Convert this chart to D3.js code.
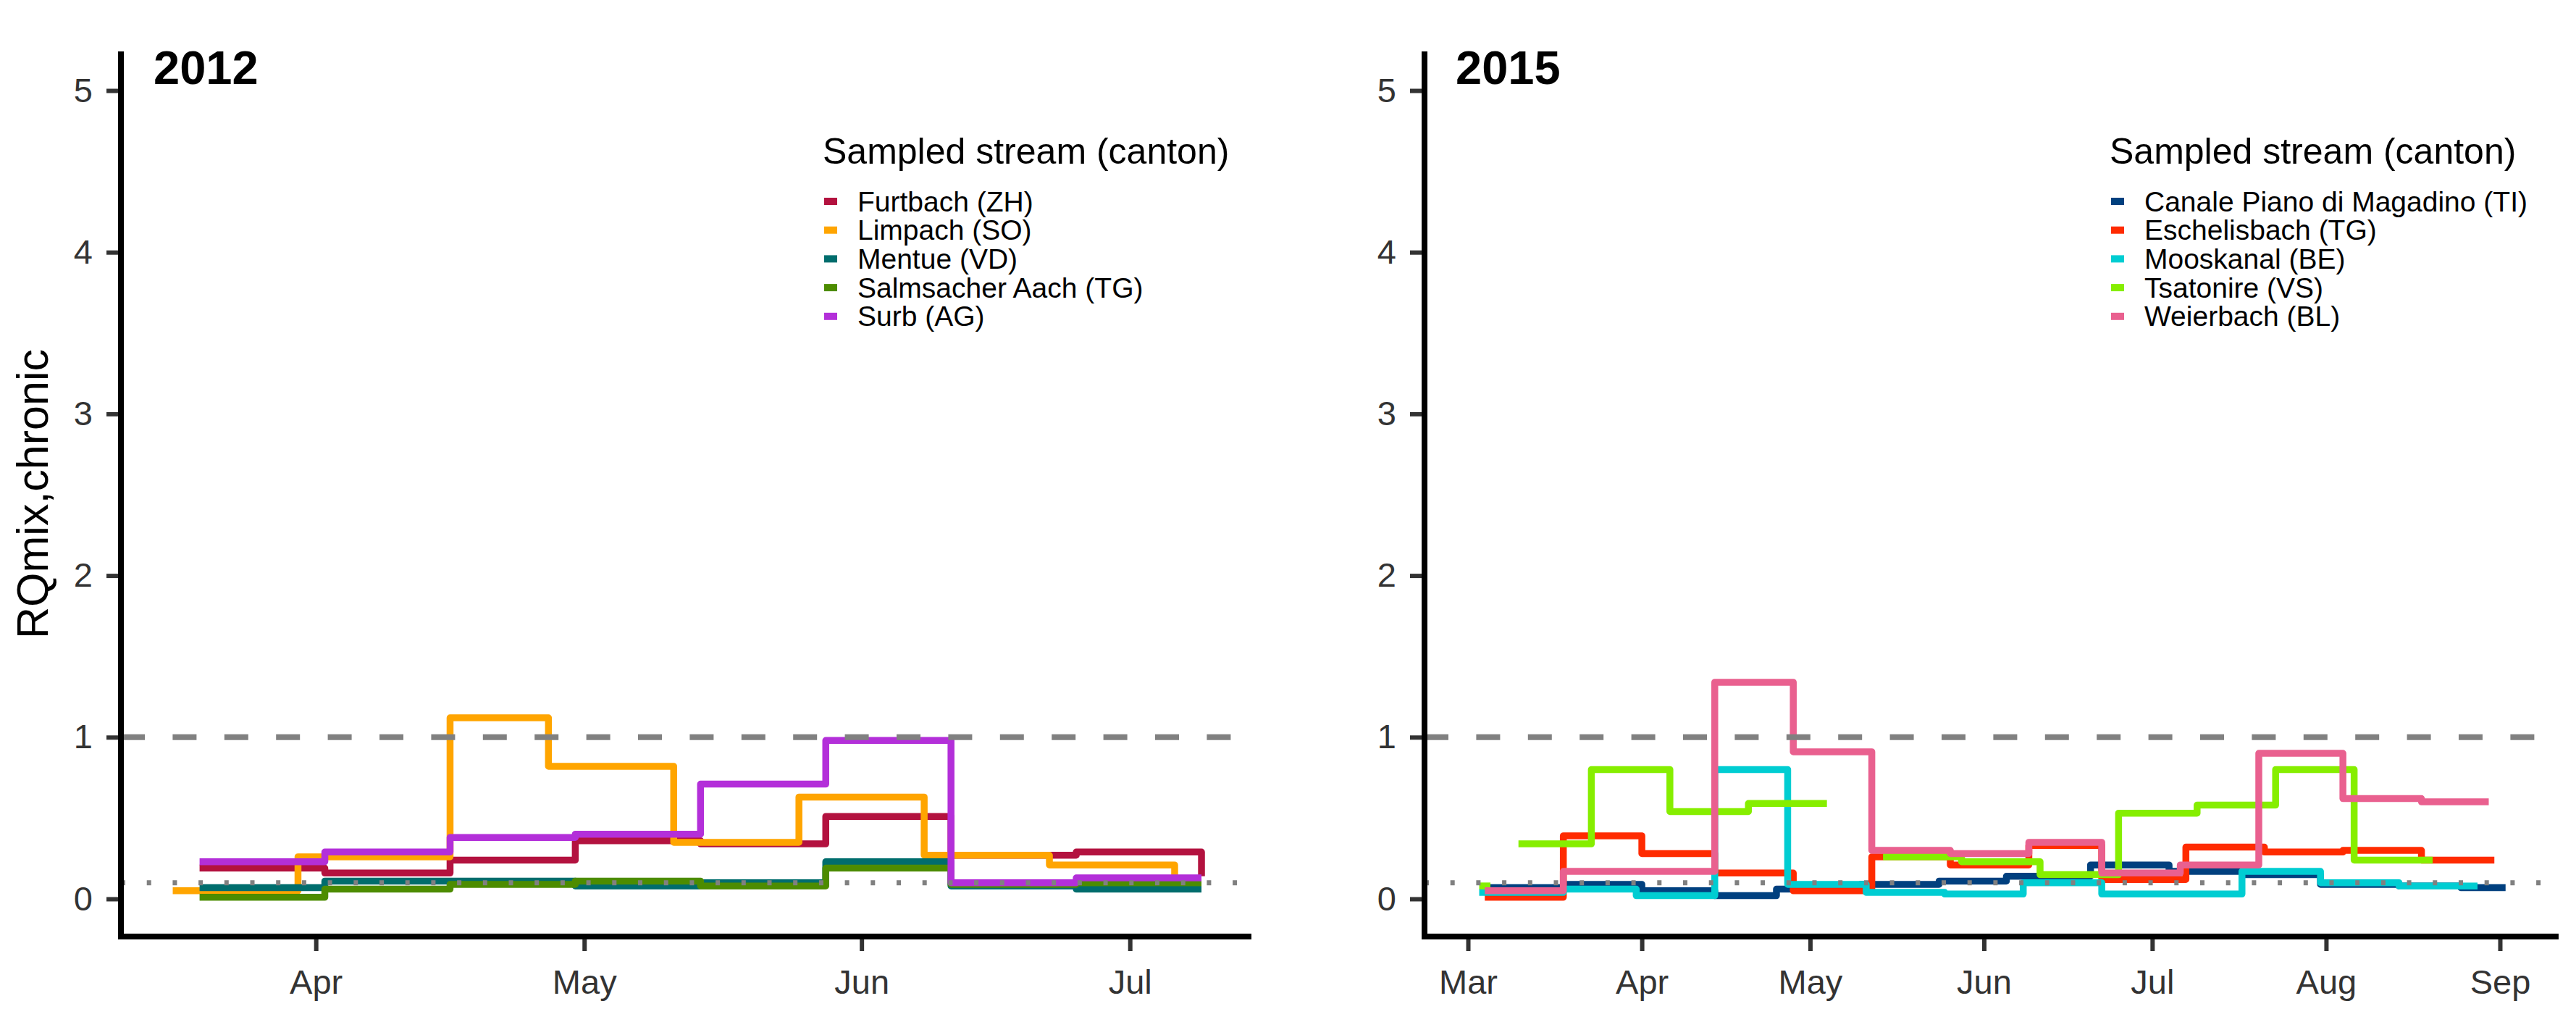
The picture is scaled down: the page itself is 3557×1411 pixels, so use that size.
<!DOCTYPE html>
<html>
<head>
<meta charset="utf-8">
<script src="https://cdn.jsdelivr.net/npm/d3@7"></script>
<style>
  body { margin: 0; background: #fff; }
</style>
</head>
<body>
<div id="chart"></div>
<script>

// ---- 2012 : composite samples (start of each period, last entry = end of last period)
const sampling2012 = ['2012-03-19','2012-04-02','2012-04-16','2012-04-30','2012-05-14','2012-05-28','2012-06-11','2012-06-25','2012-07-09']
const limpachDates = ['2012-03-16','2012-03-30','2012-04-16','2012-04-27','2012-05-11','2012-05-25','2012-06-08','2012-06-22','2012-07-06']

const furtbach   = [0.19, 0.16, 0.24, 0.36, 0.34, 0.51, 0.27, 0.29, 0.14]
const limpach    = [0.05, 0.26, 1.12, 0.82, 0.35, 0.63, 0.27, 0.21, 0.13]
const mentue     = [0.07, 0.11, 0.11, 0.08, 0.10, 0.23, 0.08, 0.06, 0.06]
const salmsacher = [0.01, 0.06, 0.09, 0.11, 0.08, 0.19, 0.09, 0.10, 0.10]
const surb       = [0.23, 0.29, 0.38, 0.40, 0.71, 0.98, 0.10, 0.13, 0.13]

const streams2012 = ['Furtbach (ZH)', 'Limpach (SO)', 'Mentue (VD)', 'Salmsacher Aach (TG)', 'Surb (AG)']
const colors2012  = ['#b3123f', '#ffa500', '#006d6d', '#4d8c00', '#b32fd9']

// ---- 2015 (null = no sample for that period)
const canaleDates = ['2015-03-04','2015-03-18','2015-04-01','2015-04-14','2015-04-25','2015-05-10','2015-05-24','2015-06-05','2015-06-20','2015-07-04','2015-07-17','2015-07-31','2015-08-14','2015-08-25','2015-09-02']
const canale      = [0.07, 0.09, 0.05, 0.02, 0.06, 0.09, 0.11, 0.14, 0.21, 0.17, 0.15, 0.09, 0.08, 0.07, 0.07]

const eschelisbachDates = ['2015-03-04','2015-03-18','2015-04-01','2015-04-14','2015-04-28','2015-05-12','2015-05-26','2015-06-09','2015-06-22','2015-07-07','2015-07-21','2015-08-04','2015-08-18','2015-08-31']
const eschelisbach      = [0.01, 0.39, 0.28, 0.16, 0.05, 0.26, 0.21, 0.33, 0.12, 0.32, 0.29, 0.30, 0.24, 0.24]

const mooskanalDates = ['2015-03-03','2015-03-18','2015-03-31','2015-04-14','2015-04-27','2015-05-11','2015-05-25','2015-06-08','2015-06-22','2015-07-17','2015-07-31','2015-08-14','2015-08-28']
const mooskanal      = [0.04, 0.06, 0.02, 0.80, 0.09, 0.04, 0.03, 0.10, 0.03, 0.17, 0.10, 0.08, 0.08]

const tsatonireDates = ['2015-03-03','2015-03-05','2015-03-10','2015-03-23','2015-04-06','2015-04-20','2015-05-04','2015-05-14','2015-05-28','2015-06-11','2015-06-25','2015-07-09','2015-07-23','2015-08-06','2015-08-20']
const tsatonire      = [0.08, null, 0.34, 0.80, 0.54, 0.59, null, 0.26, 0.23, 0.15, 0.53, 0.58, 0.80, 0.24, 0.24]

const weierbachDates = ['2015-03-04','2015-03-18','2015-04-14','2015-04-28','2015-05-12','2015-05-26','2015-06-09','2015-06-22','2015-07-06','2015-07-20','2015-08-04','2015-08-18','2015-08-30']
const weierbach      = [0.05, 0.17, 1.34, 0.91, 0.30, 0.28, 0.35, 0.16, 0.21, 0.90, 0.62, 0.60, 0.60]

const streams2015 = ['Canale Piano di Magadino (TI)', 'Eschelisbach (TG)', 'Mooskanal (BE)', 'Tsatonire (VS)', 'Weierbach (BL)']
const colors2015  = ['#00407f', '#ff2b00', '#00cdd2', '#86ee00', '#e9608f']

const yTicks = [0, 1, 2, 3, 4, 5]
const chronicLine = 1
const acuteLine = 0.1

// -------------------------------------------------------------------------

const width = 3557,
      height = 1411,
      font = 'Liberation Sans, Arial, Helvetica, sans-serif',
      plotTop = 71,
      axisY = 1293

const parse = d3.timeParse('%Y-%m-%d')

const y = d3.scaleLinear().domain([0, 5]).range([1241, 125])

const panels = [
    {
        title: '2012', left: 167, right: 1728, titleX: 212, legendX: 1138,
        xDomain: [new Date(2012, 2, 10, 5), new Date(2012, 6, 14, 14)],
        series: [
            {dates: sampling2012, values: furtbach},
            {dates: limpachDates, values: limpach},
            {dates: sampling2012, values: mentue},
            {dates: sampling2012, values: salmsacher},
            {dates: sampling2012, values: surb}
        ].map((s, i) => ({...s, name: streams2012[i], color: colors2012[i]}))
    },
    {
        title: '2015', left: 1967, right: 3533, titleX: 2010, legendX: 2915,
        xDomain: [new Date(2015, 1, 21, 6), new Date(2015, 8, 11, 11)],
        series: [
            {dates: canaleDates, values: canale},
            {dates: eschelisbachDates, values: eschelisbach},
            {dates: mooskanalDates, values: mooskanal},
            {dates: tsatonireDates, values: tsatonire},
            {dates: weierbachDates, values: weierbach}
        ].map((s, i) => ({...s, name: streams2015[i], color: colors2015[i]}))
    }
]

// split a step series into continuous runs; a null value ends the run at that date
function runs(dates, values) {
    const out = []
    let cur = null
    dates.forEach((d, i) => {
        const v = values[i]
        if (v === null) {
            if (cur) {
                cur.push([d, values[i - 1]])
                out.push(cur)
                cur = null
            }
            return
        }
        if (!cur) cur = []
        cur.push([d, v])
    })
    if (cur) out.push(cur)
    return out
}

const svg = d3.select('#chart')
    .append('svg')
    .attr('width', width)
    .attr('height', height)
    .attr('font-family', font)

svg.append('rect')
    .attr('width', width)
    .attr('height', height)
    .attr('fill', '#fff')

panels.forEach(function(p) {

    const x = d3.scaleTime().domain(p.xDomain).range([p.left, p.right])

    const line = d3.line()
        .x(d => x(d[0]))
        .y(d => y(d[1]))
        .curve(d3.curveStepAfter)

    const g = svg.append('g')

    p.series.forEach(function(s) {
        runs(s.dates.map(parse), s.values).forEach(function(seg) {
            g.append('path')
                .datum(seg)
                .attr('fill', 'none')
                .attr('stroke', s.color)
                .attr('stroke-width', 9.5)
                .attr('stroke-linejoin', 'round')
                .attr('d', line)
        })
    })

    // reference lines
    g.append('line')
        .attr('x1', p.left).attr('x2', p.right)
        .attr('y1', y(chronicLine)).attr('y2', y(chronicLine))
        .attr('stroke', '#808080')
        .attr('stroke-width', 8)
        .attr('stroke-dasharray', '33 38.4')

    g.append('line')
        .attr('x1', p.left).attr('x2', p.right)
        .attr('y1', y(acuteLine)).attr('y2', y(acuteLine))
        .attr('stroke', '#808080')
        .attr('stroke-width', 7)
        .attr('stroke-dasharray', '6 29.7')

    // axes
    const xAxis = g.append('g')
        .attr('transform', `translate(0,${axisY})`)
        .call(d3.axisBottom(x)
            .ticks(d3.timeMonth.every(1))
            .tickFormat(d3.timeFormat('%b'))
            .tickSize(20)
            .tickPadding(26))
        .call(a => a.select('.domain').remove())

    const yAxis = g.append('g')
        .attr('transform', `translate(${p.left},0)`)
        .call(d3.axisLeft(y)
            .tickValues(yTicks)
            .tickFormat(d3.format('d'))
            .tickSize(20)
            .tickPadding(19))
        .call(a => a.select('.domain').remove())

    ;[xAxis, yAxis].forEach(function(a) {
        a.attr('font-family', font).attr('font-size', 47)
        a.selectAll('line').attr('stroke', '#333').attr('stroke-width', 6)
        a.selectAll('text').attr('fill', '#333')
    })

    g.append('path')
        .attr('d', `M${p.left},${plotTop}V${axisY}H${p.right}`)
        .attr('fill', 'none')
        .attr('stroke', '#000')
        .attr('stroke-width', 8)

    // panel title
    g.append('text')
        .attr('x', p.titleX)
        .attr('y', 116)
        .attr('font-size', 65)
        .attr('font-weight', 'bold')
        .attr('fill', '#000')
        .text(p.title)

    // legend
    const lg = g.append('g')

    lg.append('text')
        .attr('x', p.legendX - 2)
        .attr('y', 226)
        .attr('font-size', 50)
        .attr('fill', '#000')
        .text('Sampled stream (canton)')

    p.series.forEach(function(s, i) {
        const cy = 278 + i * 39.7
        lg.append('rect')
            .attr('x', p.legendX)
            .attr('y', cy - 5)
            .attr('width', 18)
            .attr('height', 10)
            .attr('fill', s.color)
        lg.append('text')
            .attr('x', p.legendX + 46)
            .attr('y', cy)
            .attr('dy', '0.35em')
            .attr('font-size', 39)
            .attr('fill', '#000')
            .text(s.name)
    })
})

// y axis title
svg.append('text')
    .attr('transform', `translate(66,${(plotTop + axisY) / 2}) rotate(-90)`)
    .attr('text-anchor', 'middle')
    .attr('font-size', 61)
    .attr('fill', '#000')
    .text('RQmix,chronic')

</script>
</body>
</html>
